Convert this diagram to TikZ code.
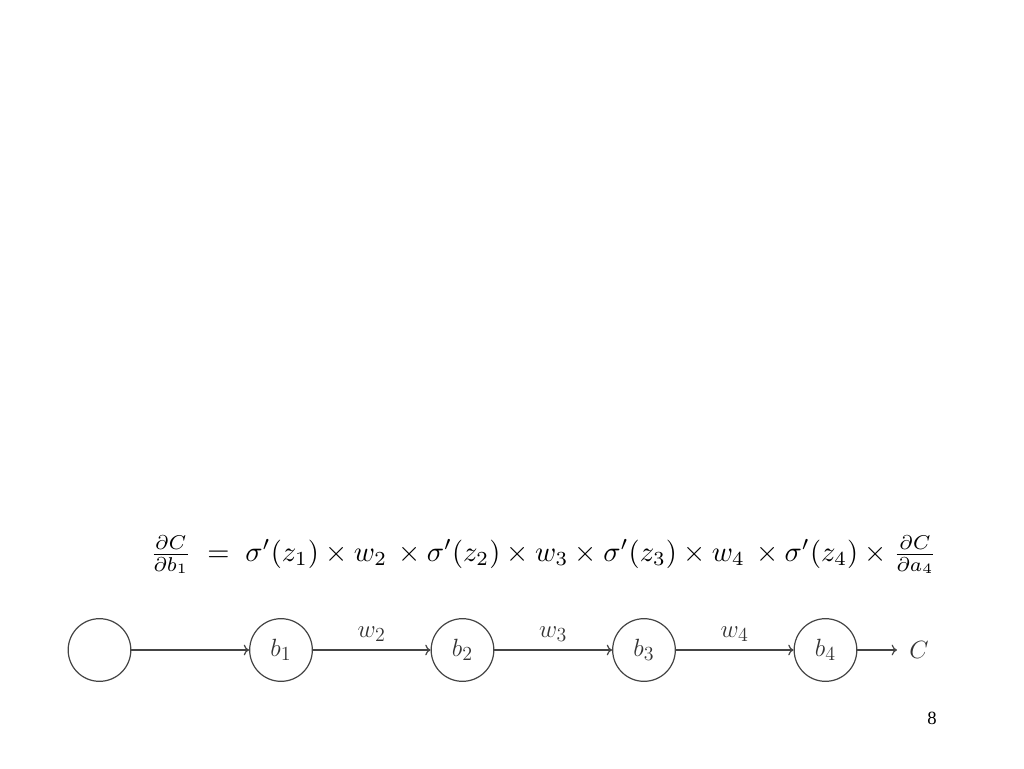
\documentclass[tikz,border=0pt]{standalone}
\usepackage{amsmath}
\usepackage{graphicx}
\usepackage{fontspec}
\newfontfamily\pagefont{Liberation Serif}
\usetikzlibrary{arrows.meta}
\definecolor{ln}{HTML}{444444}
\definecolor{tx}{HTML}{333333}
\newcommand{\sbx}[1]{_{\scalebox{0.8}{$#1$}}}
\newcommand{\lab}[1]{\scalebox{1.3}{$#1$}}
\begin{document}
\begin{tikzpicture}[x=0.75pt,y=-0.75pt,
  neuron/.style={circle,draw=ln,line width=0.9pt,minimum size=47pt,inner sep=0pt,text=tx,font=\Large},
  conn/.style={draw=ln,line width=0.9pt,-{To[length=4pt,width=8pt]}},
  wlab/.style={text=tx,font=\Large,above,inner sep=2pt}]
\useasboundingbox (0,0) rectangle (1024,768);
\node[anchor=center] (eq) at (543.5,555) {\resizebox{590pt}{!}{$\frac{\partial C}{\partial b_1}\;=\;\sigma'(z_1)\times w_2\,\times\sigma'(z_2)\times w_3\times\sigma'(z_3)\times w_4\,\times\sigma'(z_4)\times\frac{\partial C}{\partial a_4}$}};
\node[neuron] (n0) at (99.5,650) {};
\node[neuron] (n1) at (281,650) {\lab{b\sbx{1}}};
\node[neuron] (n2) at (462.5,650) {\lab{b\sbx{2}}};
\node[neuron] (n3) at (644,650) {\lab{b\sbx{3}}};
\node[neuron] (n4) at (825.5,650) {\lab{b\sbx{4}}};
\coordinate (cend) at (897,650);
\node[text=tx,font=\Large,anchor=west,inner sep=0pt] (c) at (909,650) {\lab{C}};
\draw[conn] (n0) -- (n1);
\draw[conn] (n1) -- node[wlab,yshift=4pt] (w2) {\lab{w\sbx{2}}} (n2);
\draw[conn] (n2) -- node[wlab,yshift=4pt] (w3) {\lab{w\sbx{3}}} (n3);
\draw[conn] (n3) -- node[wlab,yshift=4pt] (w4) {\lab{w\sbx{4}}} (n4);
\draw[conn] (n4) -- (cend);
\node[font=\pagefont\fontsize{14}{16}\selectfont] (pg) at (932,718) {8};
\end{tikzpicture}
\end{document}
